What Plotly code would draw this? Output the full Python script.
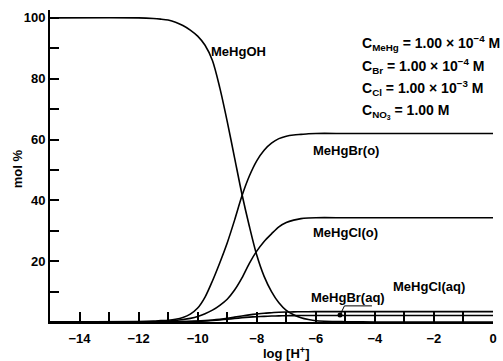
import plotly.graph_objects as go

# ---- data ----
log_h = [-15, -12, -11.5, -11.25, -11, -10.75, -10.5, -10.25, -10, -9.75, -9.5, -9.25, -9,
         -8.75, -8.5, -8.25, -8, -7.75, -7.5, -7.25, -7, -6.75, -6.5, -6.25, -6,
         -5, -4, -2, 0]
mehgoh = [100, 100, 99.8, 99.6, 99.3, 98.6, 97.5, 96, 94, 91, 86, 77, 66,
          54, 42, 31.5, 22, 15, 10, 6.3, 3.8, 2.4, 1.4, 0.8, 0.4,
          0.1, 0, 0, 0]
mehgbr_o = [0, 0.15, 0.3, 0.45, 0.6, 0.9, 1.5, 2.6, 4.6, 8.2, 13.5, 19.5, 26,
            33.5, 41.5, 48, 53, 56.5, 58.8, 60.3, 61.1, 61.5, 61.7, 61.9, 62,
            62, 62, 62, 62]
mehgcl_o = [0, 0.05, 0.1, 0.2, 0.3, 0.5, 0.8, 1.2, 1.8, 2.7, 3.9, 5.5, 7.5,
            10.5, 14.5, 19.3, 23.3, 26.5, 29, 31.3, 32.7, 33.5, 34, 34.2, 34.3,
            34.3, 34.3, 34.3, 34.3]
mehgcl_aq = [0, 0.01, 0.02, 0.04, 0.06, 0.1, 0.15, 0.22, 0.3, 0.45, 0.65, 0.9, 1.2,
             1.6, 2.0, 2.35, 2.65, 2.9, 3.05, 3.2, 3.28, 3.33, 3.36, 3.38, 3.4,
             3.4, 3.4, 3.4, 3.4]
mehgbr_aq = [0, 0.01, 0.02, 0.03, 0.05, 0.08, 0.12, 0.18, 0.25, 0.35, 0.5, 0.7, 0.9,
             1.15, 1.4, 1.6, 1.75, 1.85, 1.95, 2.02, 2.07, 2.1, 2.12, 2.14, 2.15,
             2.15, 2.15, 2.15, 2.15]

series = [mehgoh, mehgbr_o, mehgcl_o, mehgcl_aq, mehgbr_aq]
series_names = ["MeHgOH", "MeHgBr(o)", "MeHgCl(o)", "MeHgCl(aq)", "MeHgBr(aq)"]

x_major = [-14, -12, -10, -8, -6, -4, -2, 0]
x_minor = list(range(-15, 1))
y_major = [20, 40, 60, 80, 100]
y_minor = list(range(10, 101, 10))

FONT = "Liberation Sans"

fig = go.Figure()
for ys, nm in zip(series, series_names):
    fig.add_trace(go.Scatter(x=log_h, y=ys, mode="lines", name=nm,
                             line=dict(color="black", width=1.6, shape="spline", smoothing=0.8),
                             hoverinfo="skip", showlegend=False))

# marker dot for MeHgBr(aq) leader
fig.add_trace(go.Scatter(x=[-5.18], y=[2.3], mode="markers",
                         marker=dict(color="black", size=5), showlegend=False, hoverinfo="skip"))

labels = [
    ("MeHgOH", -9.61, 88.8),
    ("MeHgBr(o)", -6.16, 56.3),
    ("MeHgCl(o)", -6.16, 29.3),
    ("MeHgBr(aq)", -6.22, 8.2),
    ("MeHgCl(aq)", -3.44, 11.8),
]
annotations = []
for t, x, y in labels:
    annotations.append(dict(text=t, x=x, y=y, xref="x", yref="y", xanchor="left", yanchor="middle",
                            showarrow=False, font=dict(family=FONT, size=13, color="black", weight=700)))

conc = [
    ("C<sub>MeHg</sub> = 1.00 × 10<sup>−4</sup> M", 91.8),
    ("C<sub>Br</sub> = 1.00 × 10<sup>−4</sup> M", 84.3),
    ("C<sub>Cl</sub> = 1.00 × 10<sup>−3</sup> M", 76.8),
    ("C<sub>NO<sub>3</sub></sub> = 1.00 M", 69.3),
]
for t, y in conc:
    annotations.append(dict(text=t, x=-4.5, y=y, xref="x", yref="y", xanchor="left", yanchor="middle",
                            showarrow=False, font=dict(family=FONT, size=14, color="black", weight=700)))

annotations.append(dict(text="log [H<sup>+</sup>]", x=0.532, y=-0.10, xref="paper", yref="paper",
                        xanchor="center", yanchor="middle", showarrow=False,
                        font=dict(family=FONT, size=13, color="black", weight=700)))
annotations.append(dict(text="mol %", x=-0.074, y=0.49, xref="paper", yref="paper", textangle=-90,
                        xanchor="center", yanchor="middle", showarrow=False,
                        font=dict(family=FONT, size=13, color="black", weight=700)))

shapes = [
    dict(type="line", xref="x", yref="y", x0=-5.18, y0=2.3, x1=-5.03, y1=5.3,
         line=dict(color="black", width=1)),
    dict(type="line", xref="x", yref="y", x0=-5.03, y0=5.3, x1=-4.1, y1=5.3,
         line=dict(color="black", width=1)),
]

fig.update_layout(
    width=503, height=361,
    margin=dict(l=50, r=6, t=10, b=39, pad=0),
    paper_bgcolor="white", plot_bgcolor="white",
    annotations=annotations, shapes=shapes,
    font=dict(family=FONT, size=13, color="black"),
)
fig.update_xaxes(range=[-15, 0], tickmode="array", tickvals=x_major,
                 ticks="inside", ticklen=10, tickwidth=1.5, tickcolor="black",
                 minor=dict(tickmode="array", tickvals=x_minor, ticks="inside", ticklen=10,
                            tickwidth=1.5, tickcolor="black", showgrid=False),
                 ticklabelstandoff=3,
                 showline=True, linecolor="black", linewidth=2, showgrid=False, zeroline=False,
                 tickfont=dict(family=FONT, size=13, color="black", weight=700))
fig.update_yaxes(range=[0, 102.6], tickmode="array", tickvals=y_major,
                 ticks="inside", ticklen=9, tickwidth=1.5, tickcolor="black",
                 minor=dict(tickmode="array", tickvals=y_minor, ticks="inside", ticklen=9,
                            tickwidth=1.5, tickcolor="black", showgrid=False),
                 showline=True, linecolor="black", linewidth=2, showgrid=False, zeroline=False,
                 tickfont=dict(family=FONT, size=13, color="black", weight=700))

fig.write_html("out.html")
